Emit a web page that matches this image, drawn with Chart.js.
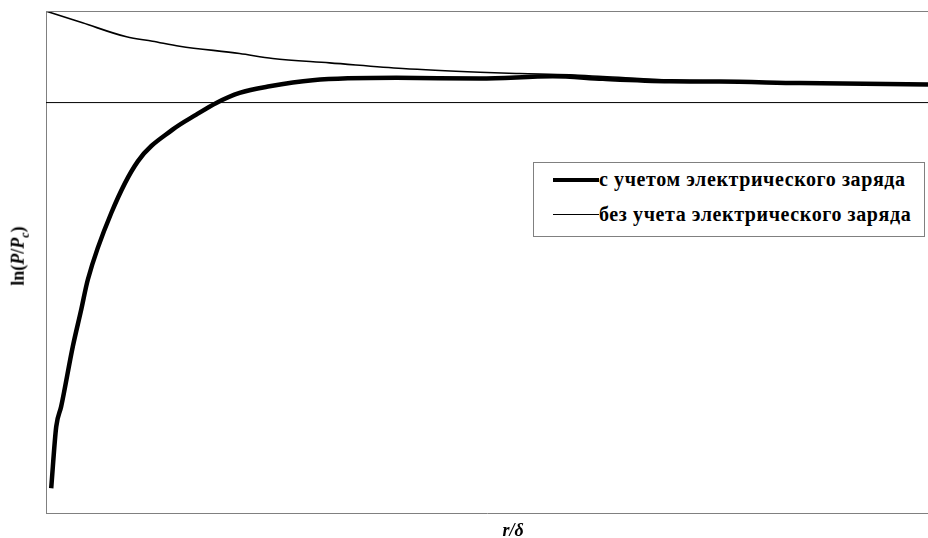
<!DOCTYPE html>
<html>
<head>
<meta charset="utf-8">
<script src="https://cdn.jsdelivr.net/npm/chart.js@4"></script>
<style>
  html, body { margin: 0; padding: 0; background: #fff; }
  #wrap { position: relative; width: 928px; height: 538px; font-family: "Liberation Serif", "DejaVu Serif", serif; }
  #wrap canvas { position: absolute; left: 0; top: 0; }
  .ylab { position: absolute; left: 20px; top: 256px; transform: translate(-50%, -50%) rotate(-90deg); font-weight: bold; font-size: 18px; white-space: nowrap; }
  .ylab sub { font-size: 12px; }
  .xlab { position: absolute; left: 513px; top: 530px; transform: translate(-50%, -50%); font-weight: bold; font-style: italic; font-size: 18px; }
  .legend { position: absolute; left: 533px; top: 162px; width: 390px; height: 73px; border: 1px solid #808080; background: #fff; font-family: "Liberation Serif", "Noto Serif", "DejaVu Serif", serif; font-weight: bold; font-size: 20px; letter-spacing: 0.6px; }
  .legend .row { position: absolute; left: 19px; display: flex; align-items: center; white-space: nowrap; }
  .legend .sample { width: 46px; background: #000; }
</style>
</head>
<body>
<div id="wrap">
  <canvas id="chart" width="928" height="538"></canvas>
  <div class="ylab">ln(<i>P</i>/<i>P</i><sub><i>c</i></sub>)</div>
  <div class="xlab">r/δ</div>
  <div class="legend">
    <div class="row" style="top: 5px;"><span class="sample" style="height: 4px;"></span><span>с учетом электрического заряда</span></div>
    <div class="row" style="top: 40px;"><span class="sample" style="height: 1.5px;"></span><span>без учета электрического заряда</span></div>
  </div>
</div>
<script>
// r/delta positions and ln(P/Pc) values
const chargedX = [0.059, 0.116, 0.172, 0.304, 0.399, 0.474, 0.74, 1.041, 1.435, 1.704, 1.931, 2.195, 2.535, 3.023, 3.973, 4.918, 5.746, 6.313, 7.073, 7.64, 8.548, 10.0];
const chargedY = [-3.853, -3.237, -3.037, -2.437, -2.07, -1.77, -1.103, -0.587, -0.27, -0.12, -0.003, 0.097, 0.163, 0.223, 0.247, 0.24, 0.263, 0.237, 0.213, 0.21, 0.195, 0.18];

const neutralX = [0.0, 0.04, 0.414, 0.913, 1.208, 1.515, 2.195, 2.57, 3.216, 4.044, 4.918, 5.371, 5.939, 6.313, 7.073, 7.64, 8.548, 10.0];
const neutralY = [0.915, 0.903, 0.797, 0.657, 0.613, 0.563, 0.49, 0.44, 0.397, 0.34, 0.303, 0.29, 0.277, 0.26, 0.225, 0.215, 0.2, 0.18];

const zeroX = [0, 10];
const zeroY = [0, 0];

const toPoints = (xs, ys) => xs.map((x, i) => ({ x, y: ys[i] }));

// top frame line (x and y axis borders do the left and bottom)
const frameTop = {
  id: 'frameTop',
  afterDraw(chart) {
    const { ctx, chartArea } = chart;
    ctx.save();
    ctx.strokeStyle = '#808080';
    ctx.lineWidth = 1;
    ctx.beginPath();
    ctx.moveTo(chartArea.left, chartArea.top + 0.5);
    ctx.lineTo(chartArea.right, chartArea.top + 0.5);
    ctx.stroke();
    ctx.restore();
  }
};

new Chart(document.getElementById('chart'), {
  type: 'line',
  data: {
    datasets: [
      {
        label: 'zero',
        data: toPoints(zeroX, zeroY),
        borderColor: '#000',
        borderWidth: 1,
        pointRadius: 0,
      },
      {
        label: 'без учета электрического заряда',
        data: toPoints(neutralX, neutralY),
        borderColor: '#000',
        borderWidth: 1.6,
        pointRadius: 0,
        cubicInterpolationMode: 'monotone',
      },
      {
        label: 'с учетом электрического заряда',
        data: toPoints(chargedX, chargedY),
        borderColor: '#000',
        borderWidth: 4.5,
        pointRadius: 0,
        cubicInterpolationMode: 'monotone',
      },
    ],
  },
  options: {
    responsive: false,
    animation: false,
    layout: { padding: { left: 46, top: 11, right: 0, bottom: 25 } },
    scales: {
      x: {
        type: 'linear',
        min: 0,
        max: 10,
        ticks: { display: false },
        grid: { display: false, drawTicks: false },
        border: { display: true, color: '#808080', width: 1 },
      },
      y: {
        type: 'linear',
        min: -4.1,
        max: 0.915,
        ticks: { display: false },
        grid: { display: false, drawTicks: false },
        border: { display: true, color: '#808080', width: 1 },
      },
    },
    plugins: {
      legend: { display: false },
      tooltip: { enabled: false },
    },
  },
  plugins: [frameTop],
});
</script>
</body>
</html>
